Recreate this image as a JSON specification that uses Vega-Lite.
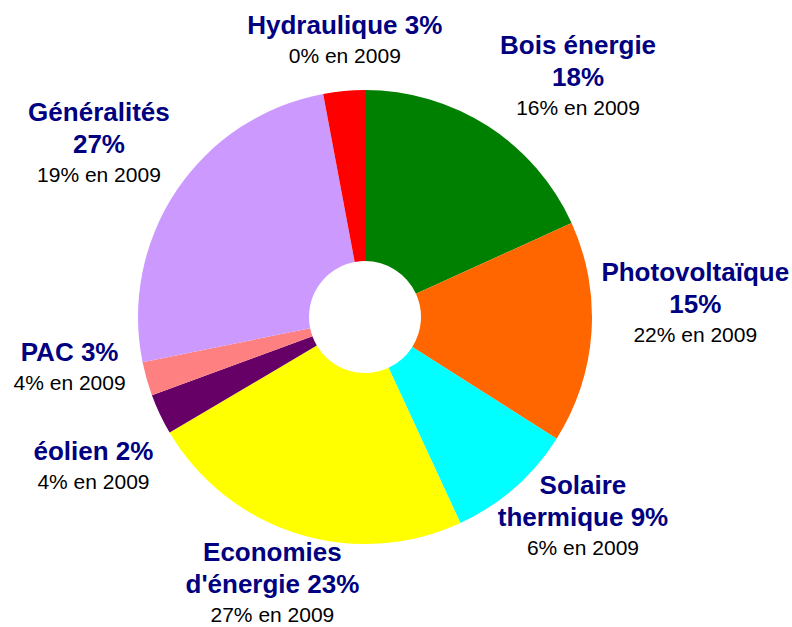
{
  "$schema": "https://vega.github.io/schema/vega-lite/v6.json",
  "width": 730,
  "height": 620,
  "autosize": {"type": "none"},
  "padding": {"left": 0, "top": 7, "right": 62, "bottom": 0},
  "background": "white",
  "config": {"view": {"stroke": null}},
  "data": {
    "values": [
      {"idx": 1, "name": "Bois énergie", "share": 18.2, "title": "Bois énergie\n18%", "sub": "16% en 2009"},
      {"idx": 2, "name": "Photovoltaïque", "share": 15.8, "title": "Photovoltaïque\n15%", "sub": "22% en 2009"},
      {"idx": 3, "name": "Solaire thermique", "share": 9.1, "title": "Solaire\nthermique 9%", "sub": "6% en 2009"},
      {"idx": 4, "name": "Economies d'énergie", "share": 23.4, "title": "Economies\nd'énergie 23%", "sub": "27% en 2009"},
      {"idx": 5, "name": "éolien", "share": 2.9, "title": "éolien 2%", "sub": "4% en 2009"},
      {"idx": 6, "name": "PAC", "share": 2.4, "title": "PAC 3%", "sub": "4% en 2009"},
      {"idx": 7, "name": "Généralités", "share": 25.25, "title": "Généralités\n27%", "sub": "19% en 2009"},
      {"idx": 8, "name": "Hydraulique", "share": 2.95, "title": "Hydraulique 3%", "sub": "0% en 2009"}
    ]
  },
  "encoding": {
    "theta": {"field": "share", "type": "quantitative", "stack": true},
    "order": {"field": "idx", "type": "quantitative"},
    "detail": {"field": "name", "type": "nominal"}
  },
  "layer": [
    {
      "mark": {"type": "arc", "outerRadius": 227, "innerRadius": 56, "stroke": null},
      "encoding": {
        "color": {
          "field": "name", "type": "nominal", "legend": null,
          "scale": {
            "domain": ["Bois énergie", "Photovoltaïque", "Solaire thermique", "Economies d'énergie", "éolien", "PAC", "Généralités", "Hydraulique"],
            "range": ["#008000", "#FF6600", "#00FFFF", "#FFFF00", "#660066", "#FF8080", "#CC99FF", "#FF0000"]
          }
        }
      }
    },
    {"mark": {"type": "text", "radius": 305, "dx": 48, "dy": -2, "align": "center", "baseline": "bottom", "font": "Liberation Sans", "fontSize": 26, "fontWeight": "bold", "color": "#000080", "lineBreak": "\n", "lineHeight": 32},
     "encoding": {"text": {"condition": {"test": "datum.idx === 1", "field": "title"}, "value": ""}}},
    {"mark": {"type": "text", "radius": 305, "dx": 48, "dy": 37, "align": "center", "baseline": "top", "font": "Liberation Sans", "fontSize": 21, "color": "#000000"},
     "encoding": {"text": {"condition": {"test": "datum.idx === 1", "field": "sub"}, "value": ""}}},
    {"mark": {"type": "text", "radius": 305, "dx": 26, "dy": -52, "align": "center", "baseline": "bottom", "font": "Liberation Sans", "fontSize": 26, "fontWeight": "bold", "color": "#000080", "lineBreak": "\n", "lineHeight": 32},
     "encoding": {"text": {"condition": {"test": "datum.idx === 2", "field": "title"}, "value": ""}}},
    {"mark": {"type": "text", "radius": 305, "dx": 26, "dy": -13, "align": "center", "baseline": "top", "font": "Liberation Sans", "fontSize": 21, "color": "#000000"},
     "encoding": {"text": {"condition": {"test": "datum.idx === 2", "field": "sub"}, "value": ""}}},
    {"mark": {"type": "text", "radius": 305, "dx": 17, "dy": -47, "align": "center", "baseline": "bottom", "font": "Liberation Sans", "fontSize": 26, "fontWeight": "bold", "color": "#000080", "lineBreak": "\n", "lineHeight": 32},
     "encoding": {"text": {"condition": {"test": "datum.idx === 3", "field": "title"}, "value": ""}}},
    {"mark": {"type": "text", "radius": 305, "dx": 17, "dy": -8, "align": "center", "baseline": "top", "font": "Liberation Sans", "fontSize": 21, "color": "#000000"},
     "encoding": {"text": {"condition": {"test": "datum.idx === 3", "field": "sub"}, "value": ""}}},
    {"mark": {"type": "text", "radius": 305, "dx": -2, "dy": -42, "align": "center", "baseline": "bottom", "font": "Liberation Sans", "fontSize": 26, "fontWeight": "bold", "color": "#000080", "lineBreak": "\n", "lineHeight": 32},
     "encoding": {"text": {"condition": {"test": "datum.idx === 4", "field": "title"}, "value": ""}}},
    {"mark": {"type": "text", "radius": 305, "dx": -2, "dy": -3, "align": "center", "baseline": "top", "font": "Liberation Sans", "fontSize": 21, "color": "#000000"},
     "encoding": {"text": {"condition": {"test": "datum.idx === 4", "field": "sub"}, "value": ""}}},
    {"mark": {"type": "text", "radius": 305, "dx": 4, "dy": 17, "align": "center", "baseline": "bottom", "font": "Liberation Sans", "fontSize": 26, "fontWeight": "bold", "color": "#000080", "lineBreak": "\n", "lineHeight": 32},
     "encoding": {"text": {"condition": {"test": "datum.idx === 5", "field": "title"}, "value": ""}}},
    {"mark": {"type": "text", "radius": 305, "dx": 4, "dy": 24, "align": "center", "baseline": "top", "font": "Liberation Sans", "fontSize": 21, "color": "#000000"},
     "encoding": {"text": {"condition": {"test": "datum.idx === 5", "field": "sub"}, "value": ""}}},
    {"mark": {"type": "text", "radius": 305, "dx": -2, "dy": -34, "align": "center", "baseline": "bottom", "font": "Liberation Sans", "fontSize": 26, "fontWeight": "bold", "color": "#000080", "lineBreak": "\n", "lineHeight": 32},
     "encoding": {"text": {"condition": {"test": "datum.idx === 6", "field": "title"}, "value": ""}}},
    {"mark": {"type": "text", "radius": 305, "dx": -2, "dy": -27, "align": "center", "baseline": "top", "font": "Liberation Sans", "fontSize": 21, "color": "#000000"},
     "encoding": {"text": {"condition": {"test": "datum.idx === 6", "field": "sub"}, "value": ""}}},
    {"mark": {"type": "text", "radius": 305, "dx": -13, "dy": -21, "align": "center", "baseline": "bottom", "font": "Liberation Sans", "fontSize": 26, "fontWeight": "bold", "color": "#000080", "lineBreak": "\n", "lineHeight": 32},
     "encoding": {"text": {"condition": {"test": "datum.idx === 7", "field": "title"}, "value": ""}}},
    {"mark": {"type": "text", "radius": 305, "dx": -13, "dy": 18, "align": "center", "baseline": "top", "font": "Liberation Sans", "fontSize": 21, "color": "#000000"},
     "encoding": {"text": {"condition": {"test": "datum.idx === 7", "field": "sub"}, "value": ""}}},
    {"mark": {"type": "text", "radius": 305, "dx": 8, "dy": 26, "align": "center", "baseline": "bottom", "font": "Liberation Sans", "fontSize": 26, "fontWeight": "bold", "color": "#000080", "lineBreak": "\n", "lineHeight": 32},
     "encoding": {"text": {"condition": {"test": "datum.idx === 8", "field": "title"}, "value": ""}}},
    {"mark": {"type": "text", "radius": 305, "dx": 8, "dy": 33, "align": "center", "baseline": "top", "font": "Liberation Sans", "fontSize": 21, "color": "#000000"},
     "encoding": {"text": {"condition": {"test": "datum.idx === 8", "field": "sub"}, "value": ""}}}
  ]
}
